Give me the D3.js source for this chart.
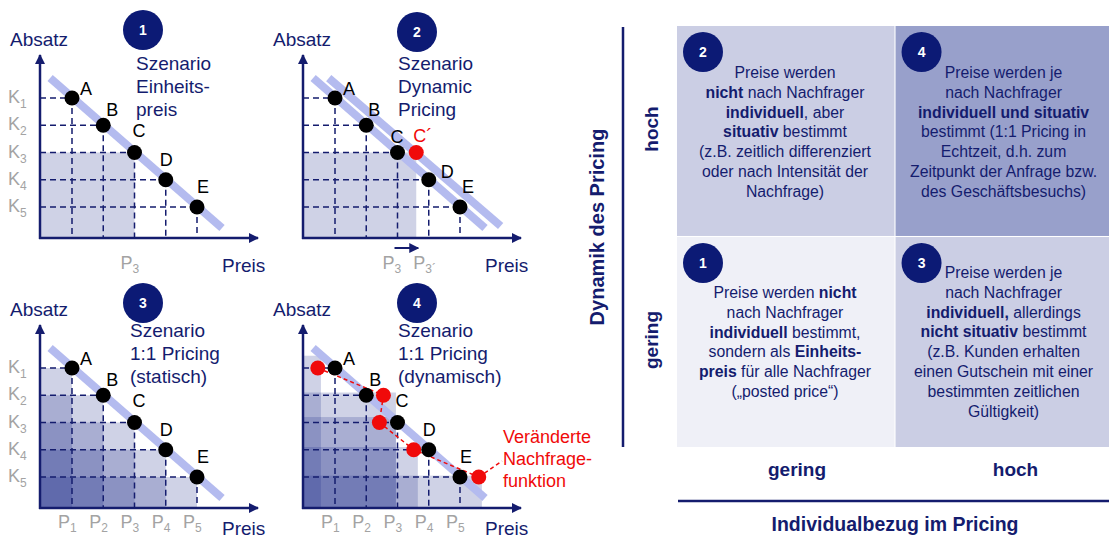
<!DOCTYPE html>
<html>
<head>
<meta charset="utf-8">
<script src="https://cdn.jsdelivr.net/npm/d3@7"></script>
<style>
  body { margin: 0; background: #fff; }
  svg { display: block; font-family: 'Liberation Sans', Arial, sans-serif; }
</style>
</head>
<body>
<script>
"use strict";
(function(){
    // demand points A-E: price index (P1..P5) and sales index (K1..K5, K1 = top)
    const pointNames = ["A", "B", "C", "D", "E"];
    const prices = [1, 2, 3, 4, 5];
    const sales = [1, 2, 3, 4, 5];
    const indexLabels = ["1", "2", "3", "4", "5"];

    // demand function ends [price, sales]
    const demand = [[0.3, 0.27], [5.8, 5.77]];
    const demandShifted = [[0.8, 0.27], [6.3, 5.7]];

    // scenario 2: price of C moves to C'
    const cPrimePrice = 3.6;
    const cPrimeSales = 3;

    // scenario 4: changed demand function (red points) and revenue blocks
    const redPrices = [0.45, 2.55, 2.42, 3.52, 5.6];
    const redSales = [1, 2, 3, 4, 5];
    const blockPrices = [0.55, 2.95, 2.95, 3.65, 5.7];
    const blockSales = [0.55, 1.9, 2.8, 3.9, 4.95];

    const scenarioTitles = [
        ["Szenario", "Einheits-", "preis"],
        ["Szenario", "Dynamic", "Pricing"],
        ["Szenario", "1:1 Pricing", "(statisch)"],
        ["Szenario", "1:1 Pricing", "(dynamisch)"]
    ];
    const changedLabel = ["Veränderte", "Nachfrage-", "funktion"];

    // matrix: cell numbers and text lines, [text, bold]
    const cellNumbers = ["2", "4", "1", "3"];
    const cellTexts = [
        [[["Preise werden", 0]],
         [["nicht", 1], [" nach Nachfrager", 0]],
         [["individuell", 1], [", aber", 0]],
         [["situativ", 1], [" bestimmt", 0]],
         [["(z.B. zeitlich differenziert", 0]],
         [["oder nach Intensität der", 0]],
         [["Nachfrage)", 0]]],
        [[["Preise werden je", 0]],
         [["nach Nachfrager", 0]],
         [["individuell und situativ", 1]],
         [["bestimmt (1:1 Pricing in", 0]],
         [["Echtzeit, d.h. zum", 0]],
         [["Zeitpunkt der Anfrage bzw.", 0]],
         [["des Geschäftsbesuchs)", 0]]],
        [[["Preise werden ", 0], ["nicht", 1]],
         [["nach Nachfrager", 0]],
         [["individuell", 1], [" bestimmt,", 0]],
         [["sondern als ", 0], ["Einheits-", 1]],
         [["preis", 1], [" für alle Nachfrager", 0]],
         [["(„posted price“)", 0]]],
        [[["Preise werden je", 0]],
         [["nach Nachfrager", 0]],
         [["individuell,", 1], [" allerdings", 0]],
         [["nicht situativ", 1], [" bestimmt", 0]],
         [["(z.B. Kunden erhalten", 0]],
         [["einen Gutschein mit einer", 0]],
         [["bestimmten zeitlichen", 0]],
         [["Gültigkeit)", 0]]]
    ];
    const rowLabels = ["hoch", "gering"];
    const colLabels = ["gering", "hoch"];
    const yTitle = "Dynamik des Pricing";
    const xTitle = "Individualbezug im Pricing";

    const NAVY = "#141c6e";
    const DOT_NAVY = "#0c1a75";
    const GREY = "#a3a3a3";
    const RED = "#f00a0a";
    const LINE_BLUE = "#b4bbef";
    const BLOCK = "#1e2a8a";

    const svgContainer = d3.select("body").append("svg")
        .attr("width", 1109)
        .attr("height", 538);

    const defs = svgContainer.append("defs");
    defs.append("marker")
        .attr("id", "arrow")
        .attr("viewBox", "0 0 10 10")
        .attr("refX", 9).attr("refY", 5)
        .attr("markerWidth", 10).attr("markerHeight", 10)
        .attr("markerUnits", "userSpaceOnUse")
        .attr("orient", "auto")
        .append("path")
        .attr("d", "M0,0L10,5L0,10Z")
        .attr("fill", NAVY);

    // small numbered disc
    function badge(g, cx, cy, r, label) {
        g.append("circle").attr("cx", cx).attr("cy", cy).attr("r", r).attr("fill", DOT_NAVY);
        g.append("text").attr("x", cx).attr("y", cy + 5)
            .attr("text-anchor", "middle").attr("fill", "#fff")
            .style("font-size", "14px").style("font-weight", "bold")
            .text(label);
    }

    // letter label offsets next to the points
    const labelOffsets = { A: [8, -3], B: [3, -9], C: [-2, -16], D: [-6, -14], E: [0, -14] };
    const labelOffsets2 = { A: [8, -3], B: [2, -9], C: [-7, -10], D: [12, -2], E: [2, -14] };

    const panels = [
        { cx: 40, cy: 238, badge: [143, 30], title: [136, 70], kLabels: true, pLabels: [3] },
        { cx: 303, cy: 238, badge: [417, 32], title: [398, 70], kLabels: false, pLabels: [] },
        { cx: 40, cy: 508, badge: [143, 303], title: [130, 337], kLabels: true, pLabels: [1, 2, 3, 4, 5] },
        { cx: 303, cy: 508, badge: [417, 303], title: [398, 337], kLabels: false, pLabels: [1, 2, 3, 4, 5] }
    ];

    panels.forEach(function (pn, idx) {
        const g = svgContainer.append("g");
        const scaleX = d3.scaleLinear().domain([1, 5]).range([pn.cx + 32, pn.cx + 157]);
        const scaleY = d3.scaleLinear().domain([1, 5]).range([pn.cy - 140, pn.cy - 31]);
        const pts = pointNames.map((n, i) => ({ name: n, p: prices[i], k: sales[i] }));
        const bottomRow = idx >= 2;

        // revenue blocks
        let blocks = [];
        if (idx === 0) blocks = [{ p: prices[2], k: sales[2] }];
        if (idx === 1) blocks = [{ p: cPrimePrice, k: cPrimeSales }];
        if (idx === 2) blocks = pts;
        if (idx === 3) blocks = blockPrices.map((p, i) => ({ p: p, k: blockSales[i] }));
        g.selectAll(".block").data(blocks).enter().append("rect")
            .attr("x", pn.cx)
            .attr("y", d => scaleY(d.k))
            .attr("width", d => scaleX(d.p) - pn.cx)
            .attr("height", d => pn.cy - scaleY(d.k))
            .attr("fill", BLOCK)
            .attr("fill-opacity", 0.21);

        // dashed guides
        g.selectAll(".hguide").data(pts).enter().append("line")
            .attr("x1", pn.cx).attr("x2", d => scaleX(d.p))
            .attr("y1", d => scaleY(d.k)).attr("y2", d => scaleY(d.k))
            .attr("stroke", NAVY).attr("stroke-width", 1.5).attr("stroke-dasharray", "6,4");
        g.selectAll(".vguide").data(pts).enter().append("line")
            .attr("x1", d => scaleX(d.p)).attr("x2", d => scaleX(d.p))
            .attr("y1", d => scaleY(d.k)).attr("y2", pn.cy)
            .attr("stroke", NAVY).attr("stroke-width", 1.5).attr("stroke-dasharray", "6,4");

        // demand function(s)
        const curves = idx === 1 ? [demand, demandShifted] : [demand];
        curves.forEach(function (c) {
            g.append("line")
                .attr("x1", scaleX(c[0][0])).attr("y1", scaleY(c[0][1]))
                .attr("x2", scaleX(c[1][0])).attr("y2", scaleY(c[1][1]))
                .attr("stroke", LINE_BLUE).attr("stroke-width", 8);
        });

        // scenario 4: changed demand
        if (idx === 3) {
            const red = redPrices.map((p, i) => [scaleX(p), scaleY(redSales[i])]);
            g.append("path")
                .attr("d", d3.line()(red))
                .attr("fill", "none").attr("stroke", RED)
                .attr("stroke-width", 1.5).attr("stroke-dasharray", "4,3");
            g.append("line")
                .attr("x1", red[4][0]).attr("y1", red[4][1])
                .attr("x2", 502).attr("y2", 461)
                .attr("stroke", RED).attr("stroke-width", 1.5).attr("stroke-dasharray", "4,3");
            g.selectAll(".red").data(red).enter().append("circle")
                .attr("cx", d => d[0]).attr("cy", d => d[1]).attr("r", 7.5)
                .attr("fill", RED);
            changedLabel.forEach(function (t, i) {
                g.append("text").attr("x", 503).attr("y", 443 + i * 22)
                    .attr("fill", RED).style("font-size", "18px").text(t);
            });
        }

        // points
        g.selectAll(".pt").data(pts).enter().append("circle")
            .attr("cx", d => scaleX(d.p)).attr("cy", d => scaleY(d.k)).attr("r", 7.5)
            .attr("fill", "#000");
        const offs = idx === 1 ? labelOffsets2 : labelOffsets;
        g.selectAll(".ptlabel").data(pts).enter().append("text")
            .attr("x", d => scaleX(d.p) + offs[d.name][0])
            .attr("y", d => scaleY(d.k) + offs[d.name][1])
            .style("font-size", "18px")
            .text(d => d.name);

        if (idx === 1) {
            g.append("circle")
                .attr("cx", scaleX(cPrimePrice)).attr("cy", scaleY(cPrimeSales)).attr("r", 7.5)
                .attr("fill", RED);
            g.append("text")
                .attr("x", scaleX(cPrimePrice) - 3).attr("y", scaleY(cPrimeSales) - 11)
                .attr("fill", RED).style("font-size", "18px").text("C´");
            // price shift arrow
            g.append("line")
                .attr("x1", scaleX(prices[2]) - 3).attr("x2", scaleX(cPrimePrice) + 2)
                .attr("y1", pn.cy + 10).attr("y2", pn.cy + 10)
                .attr("stroke", NAVY).attr("stroke-width", 2)
                .attr("marker-end", "url(#arrow)");
            [["3", prices[2], -15], ["3´", cPrimePrice, -3]].forEach(function (d) {
                const t = g.append("text")
                    .attr("x", scaleX(d[1]) + d[2]).attr("y", pn.cy + 31)
                    .attr("fill", GREY).style("font-size", "18px").text("P");
                t.append("tspan").attr("dy", 4).style("font-size", "12px").text(d[0]);
            });
        }

        // K labels
        if (pn.kLabels) {
            sales.forEach(function (k, i) {
                const t = g.append("text").attr("x", 8).attr("y", scaleY(k) + 5)
                    .attr("fill", GREY).style("font-size", "18px").text("K");
                t.append("tspan").attr("dy", 5).style("font-size", "12px").text(indexLabels[i]);
            });
        }
        // P labels
        pn.pLabels.forEach(function (p) {
            const t = g.append("text").attr("x", scaleX(p) - 14).attr("y", pn.cy + (bottomRow ? 20 : 31))
                .attr("fill", GREY).style("font-size", "18px").text("P");
            t.append("tspan").attr("dy", 4).style("font-size", "12px").text(indexLabels[p - 1]);
        });

        // axes
        g.append("line")
            .attr("x1", pn.cx).attr("y1", pn.cy + 1)
            .attr("x2", pn.cx).attr("y2", pn.cy - 183)
            .attr("stroke", NAVY).attr("stroke-width", 2.5)
            .attr("marker-end", "url(#arrow)");
        g.append("line")
            .attr("x1", pn.cx - 1).attr("y1", pn.cy)
            .attr("x2", pn.cx + 218).attr("y2", pn.cy)
            .attr("stroke", NAVY).attr("stroke-width", 2.5)
            .attr("marker-end", "url(#arrow)");
        g.append("text").attr("x", pn.cx - 30).attr("y", pn.cy - 192)
            .attr("fill", NAVY).style("font-size", "19px").text("Absatz");
        g.append("text").attr("x", pn.cx + 182).attr("y", pn.cy + (bottomRow ? 27 : 34))
            .attr("fill", NAVY).style("font-size", "19px").text("Preis");

        // scenario badge and title
        badge(g, pn.badge[0], pn.badge[1], 20, String(idx + 1));
        scenarioTitles[idx].forEach(function (t, i) {
            g.append("text").attr("x", pn.title[0]).attr("y", pn.title[1] + i * 23)
                .attr("fill", NAVY).style("font-size", "19px").text(t);
        });
    });

    // ---------- matrix ----------
    const m = svgContainer.append("g");
    const colX = d3.scaleBand().domain([0, 1]).range([677, 1113]).paddingInner(0.005);
    const rowY = d3.scaleBand().domain([0, 1]).range([26, 447]).paddingInner(0.005);
    const cellFill = ["#cbcee4", "#98a0cb", "#eff0f7", "#cbcee4"];
    const cells = cellNumbers.map((n, i) => ({ n: n, col: i % 2, row: Math.floor(i / 2), lines: cellTexts[i], fill: cellFill[i] }));

    m.selectAll(".cell").data(cells).enter().append("rect")
        .attr("x", d => colX(d.col)).attr("y", d => rowY(d.row))
        .attr("width", colX.bandwidth()).attr("height", rowY.bandwidth())
        .attr("fill", d => d.fill);

    const lineStart = [78, 78, 298, 278];
    cells.forEach(function (c, i) {
        const x0 = colX(c.col), y0 = rowY(c.row);
        badge(m, x0 + 26, y0 + 26, 20, c.n);
        const cx = x0 + 108;
        c.lines.forEach(function (line, j) {
            const t = m.append("text")
                .attr("x", cx).attr("y", lineStart[i] + j * 19.8)
                .attr("text-anchor", "middle").attr("fill", NAVY)
                .style("font-size", "15.8px").style("white-space", "pre");
            line.forEach(function (seg) {
                t.append("tspan").style("font-weight", seg[1] ? "bold" : "normal").text(seg[0]);
            });
        });
    });

    // axis lines
    m.append("line").attr("x1", 623).attr("x2", 623).attr("y1", 27).attr("y2", 447)
        .attr("stroke", NAVY).attr("stroke-width", 2.5);
    m.append("line").attr("x1", 678).attr("x2", 1109).attr("y1", 501).attr("y2", 501)
        .attr("stroke", NAVY).attr("stroke-width", 2.5);

    // row / column labels
    rowLabels.forEach(function (t, i) {
        m.append("text")
            .attr("transform", "translate(651," + (rowY(i) + rowY.bandwidth() / 2 - 2) + ")rotate(-90)")
            .attr("text-anchor", "middle").attr("dominant-baseline", "central")
            .attr("fill", NAVY).style("font-size", "19px").style("font-weight", "bold")
            .text(t);
    });
    colLabels.forEach(function (t, i) {
        m.append("text")
            .attr("x", colX(i) + 120).attr("y", 476)
            .attr("text-anchor", "middle")
            .attr("fill", NAVY).style("font-size", "19px").style("font-weight", "bold")
            .text(t);
    });
    m.append("text")
        .attr("transform", "translate(597,227)rotate(-90)")
        .attr("text-anchor", "middle").attr("dominant-baseline", "central")
        .attr("fill", NAVY).style("font-size", "20px").style("font-weight", "bold")
        .text(yTitle);
    m.append("text")
        .attr("x", 895).attr("y", 531)
        .attr("text-anchor", "middle")
        .attr("fill", NAVY).style("font-size", "19.5px").style("font-weight", "bold")
        .text(xTitle);
})();
</script>
</body>
</html>
